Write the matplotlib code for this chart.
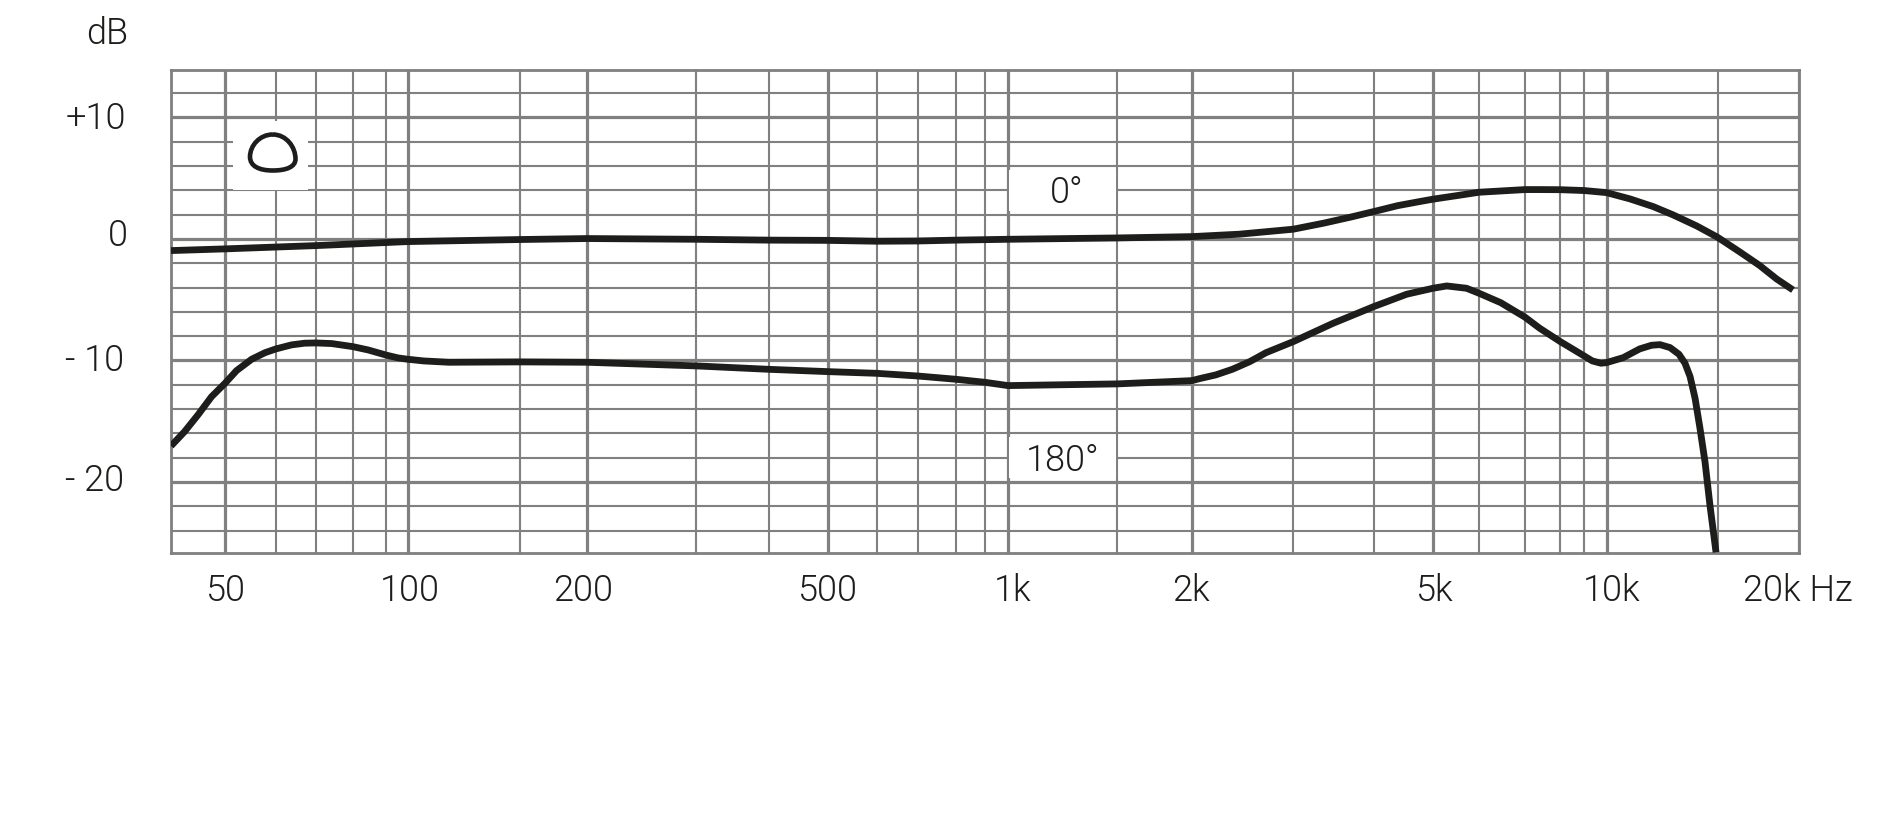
# Frequency response chart, 0 and 180 degrees
import numpy as np
import matplotlib
matplotlib.use('Agg')
import matplotlib.pyplot as plt
from matplotlib.patches import Rectangle, PathPatch
from matplotlib.path import Path
from matplotlib.transforms import ScaledTranslation

plt.rcParams['font.family'] = ['Roboto', 'DejaVu Sans']
plt.rcParams['font.weight'] = 300

# curve readings
hz_0 = [40, 50, 70, 100, 150, 200, 300, 400, 500, 600, 700, 800, 1000, 1500, 2000, 2420, 3000, 3340, 3680,
        4000, 4380, 4750, 5000, 5490, 6000, 7000, 7400, 8000, 9000, 10000, 10900, 11860, 12750, 13900,
        15000, 16200, 17400, 18500, 19600]
db_0 = [-0.96, -0.82, -0.55, -0.22, -0.05, 0.03, -0.03, -0.1, -0.12, -0.19, -0.17, -0.1, -0.03, 0.08, 0.19, 0.39, 0.8, 1.29, 1.79,
        2.25, 2.74, 3.07, 3.27, 3.56, 3.84, 4.06, 4.06, 4.05, 3.98, 3.81, 3.29, 2.66, 1.98, 1.07,
        0.14, -1.04, -2.17, -3.3, -4.2]

hz_180 = [40, 42.3, 44.7, 47.3, 50, 52.1, 55, 57.7, 60, 63.7, 67, 70, 74.1, 80, 84.6, 90, 95.5, 100, 106, 116, 150, 200,
          300, 400, 500, 600, 700, 800, 900, 1000, 1500, 2000, 2060, 2200, 2350, 2520, 2690, 3000, 3460, 4000, 4530, 5000,
          5280, 5710, 6000, 6450, 7000, 7400, 8000, 8800, 9350, 9740, 10000, 10630, 11290, 11790, 12160, 12610,
          13030, 13320, 13570, 13820, 14070, 14330, 14590, 14920]
db_180 = [-17.04, -15.86, -14.49, -12.98, -11.88, -10.84, -9.9, -9.36, -9.05, -8.72, -8.58, -8.56, -8.61, -8.86, -9.14, -9.55, -9.79, -9.9, -10.04, -10.15, -10.12, -10.15,
          -10.45, -10.73, -10.92, -11.06, -11.28, -11.55, -11.8, -12.07, -11.93, -11.66, -11.5, -11.19, -10.73, -10.1, -9.36, -8.45, -6.94, -5.57, -4.55, -4.06,
          -3.87, -4.06, -4.47, -5.24, -6.44, -7.35, -8.45, -9.41, -10.04, -10.23, -10.18, -9.77, -9.05, -8.75, -8.7, -8.94,
          -9.49, -10.23, -11.33, -13.11, -15.58, -18.33, -21.89, -25.79]

# the printed log paper is not quite regular, so the x scale follows its lines
paper_hz = [40, 50, 60, 70, 80, 90, 100, 150, 200, 300, 400, 500, 600, 700, 800, 900, 1000, 1500, 2000,
            3000, 4000, 5000, 6000, 7000, 8000, 9000, 10000, 15000, 20000]
paper_x = [171, 225, 276, 316, 352.6, 385.7, 407.5, 520, 587, 696.3, 768.7, 827.7, 876.7, 917.7, 956, 985, 1008, 1117.3, 1192,
           1293.3, 1373.7, 1433, 1479, 1525, 1560.3, 1584.3, 1606.5, 1717.5, 1798.7]

major_hz = [50, 100, 200, 500, 1000, 2000, 5000, 10000, 20000]
major_labels = ['50', '100', '200', '500', '1k', '2k', '5k', '10k', '20k Hz']
label_dx = [0, 2.5, -3.5, -1, 5, -1, 1, 5.5, -1]
major_db = [-20, -10, 0, 10]
db_labels = ['- 20', '- 10', '0', '+10']
db_dx = [0, 0, 4, 2]
db_dy = [5, 3, 7, 2.5]
minor_db = [-24, -22, -18, -16, -14, -12, -8, -6, -4, -2, 2, 4, 6, 8, 12]

grey = '#808080'
ink = '#1d1d1b'
px = 72 / 100


def to_paper(f):
    return np.interp(np.log10(np.maximum(f, 1e-3)), np.log10(paper_hz), paper_x)


def from_paper(x):
    return 10 ** np.interp(x, paper_x, np.log10(paper_hz))


fig = plt.figure(figsize=(19, 8.34), dpi=100)
ax = fig.add_axes([171 / 1900, 1 - 553.3 / 834, (1798.7 - 171) / 1900, (553.3 - 70) / 834])
ax.set_xscale('function', functions=(to_paper, from_paper))
ax.set_xlim(40, 20000)
ax.set_ylim(-25.87, 13.9)

ax.set_xticks(major_hz, major_labels)
ax.set_xticks([f for f in paper_hz if f not in major_hz and f != 40], minor=True)
ax.set_yticks(major_db, db_labels)
ax.set_yticks(minor_db, minor=True)
ax.xaxis.set_minor_formatter(plt.NullFormatter())
ax.yaxis.set_minor_formatter(plt.NullFormatter())
ax.tick_params(which='both', length=0, labelsize=26, labelcolor=ink)
ax.tick_params(axis='x', pad=14)
ax.tick_params(axis='y', pad=33.9)

ax.set_axisbelow(True)
ax.grid(which='major', color=grey, lw=3.2 * px)
ax.grid(which='minor', color=grey, lw=2.1 * px)
for s in ax.spines.values():
    s.set_color(grey)
    s.set_linewidth(2.8 * px)

# small nudges, the labels are not centred on their lines in the original
for lbl, dx in zip(ax.get_xticklabels(), label_dx):
    lbl.set_transform(lbl.get_transform() + ScaledTranslation(dx / 100, 0, fig.dpi_scale_trans))
for lbl, dx, dy in zip(ax.get_yticklabels(), db_dx, db_dy):
    lbl.set_transform(lbl.get_transform() + ScaledTranslation(dx / 100, dy / 100, fig.dpi_scale_trans))

# white boxes behind the labels and the polar icon
for x0, x1, y0, y1 in [(1005, 1495, 2.3, 5.7), (1005, 1495, -19.7, -16.3), (51.5, 67.9, 4.03, 9.74)]:
    ax.add_patch(Rectangle((x0, y0), x1 - x0, y1 - y0, fc='white', ec='none', zorder=1.5))

ax.plot(hz_0, db_0, color=ink, lw=6.8 * px, solid_joinstyle='round', solid_capstyle='butt', zorder=3)
ax.plot(hz_180, db_180, color=ink, lw=6.8 * px, solid_joinstyle='round', solid_capstyle='butt', zorder=3)

ax.text(1245, 3.78, '0°', fontsize=26, color=ink, ha='center', va='center')
ax.text(1225, -18.3, '180°', fontsize=26, color=ink, ha='center', va='center')
fig.text(107 / 1900, 1 - 34 / 834, 'dB', fontsize=26, color=ink, ha='center', va='center')

# polar pattern icon
icon = fig.add_axes([250 / 1900, 1 - 170.5 / 834, 45.5 / 1900, 36 / 834])
icon.axis('off')
icon.set_xlim(0, 1)
icon.set_ylim(0, 1)
verts = [(0.5, 1), (0.8, 1), (1, 0.65), (1, 0.32), (1, 0.1), (0.8, 0), (0.5, 0),
         (0.2, 0), (0, 0.12), (0, 0.38), (0, 0.7), (0.22, 1), (0.5, 1)]
codes = [Path.MOVETO] + [Path.CURVE4] * 12
icon.add_patch(PathPatch(Path(verts, codes), fc='none', ec=ink, lw=4.6 * px, clip_on=False))

plt.savefig('out.png', dpi=100)
